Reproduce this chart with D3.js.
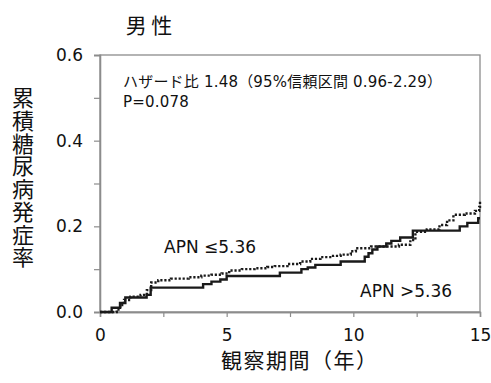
<!DOCTYPE html>
<html>
<head>
<meta charset="utf-8">
<script src="https://cdn.jsdelivr.net/npm/d3@7"></script>
<style>
  body { margin: 0; background: #fff; }
  text { font-family: "DejaVu Sans", "Noto Sans CJK JP", sans-serif; fill: #111; }
  .cjk { font-family: "Noto Sans CJK JP", sans-serif; }
</style>
</head>
<body>
<div id="chart"></div>
<script>
// Kaplan-Meier style cumulative incidence
const timeHigh = [0, 0.46, 0.79, 1.0, 1.84, 2.0, 4.07, 4.4, 4.75, 5.0, 7.1, 7.95, 8.2, 8.5, 9.5, 10.45, 10.6, 10.75, 10.95, 11.3, 11.5, 11.85, 12.35, 14.2, 14.5, 14.93, 15];
const rateHigh = [0, 0.010, 0.021, 0.034, 0.040, 0.057, 0.065, 0.071, 0.076, 0.084, 0.092, 0.100, 0.104, 0.110, 0.118, 0.129, 0.137, 0.146, 0.153, 0.160, 0.166, 0.174, 0.190, 0.200, 0.208, 0.219, 0.219];

const timeLow = [0, 0.66, 0.8, 0.95, 1.2, 1.6, 1.85, 2.02, 2.3, 2.8, 3.5, 4.0, 4.4, 4.8, 5.1, 5.6, 6.1, 6.6, 6.9, 7.4, 7.9, 8.3, 8.7, 9.2, 9.5, 9.9, 10.1, 10.7, 11.8, 12.25, 12.45, 12.9, 13.4, 13.7, 13.95, 14.4, 14.8, 14.97, 15];
const rateLow = [0, 0.006, 0.016, 0.028, 0.036, 0.040, 0.051, 0.069, 0.074, 0.078, 0.081, 0.085, 0.087, 0.090, 0.097, 0.100, 0.102, 0.105, 0.107, 0.112, 0.118, 0.124, 0.128, 0.131, 0.134, 0.142, 0.149, 0.153, 0.157, 0.168, 0.187, 0.193, 0.203, 0.214, 0.227, 0.230, 0.236, 0.245, 0.258];

const xTicks = [0, 5, 10, 15];
const xMinor = [2.5, 7.5, 12.5];
const yTicks = [0, 0.2, 0.4, 0.6];
const yMinor = [0.1, 0.3, 0.5];

const noteLines = ["ハザード比 1.48（95%信頼区間 0.96-2.29）", "P=0.078"];

const width = 491, height = 383;
const margin = { top: 55, right: 11, bottom: 71, left: 100 };
const w = width - margin.left - margin.right;
const h = height - margin.top - margin.bottom;

const svg = d3.select("#chart").append("svg")
    .attr("width", width)
    .attr("height", height);

const g = svg.append("g")
    .attr("transform", `translate(${margin.left},${margin.top})`);

const x = d3.scaleLinear().domain([0, 15]).range([0, w]);
const y = d3.scaleLinear().domain([0, 0.6]).range([h, 0]);

// plot frame
g.append("rect")
    .attr("width", w)
    .attr("height", h)
    .attr("fill", "none")
    .attr("stroke", "#8c8c8c")
    .attr("stroke-width", 1.3);

// axes
g.append("g")
    .call(d3.axisLeft(y).tickValues(yTicks).tickFormat(d3.format(".1f")).tickSize(6).tickPadding(11));
g.append("g")
    .call(d3.axisLeft(y).tickValues(yMinor).tickFormat("").tickSize(6));

g.append("g")
    .attr("transform", `translate(0,${h})`)
    .call(d3.axisBottom(x).tickValues(xTicks).tickSize(5).tickPadding(12));
g.append("g")
    .attr("transform", `translate(0,${h})`)
    .call(d3.axisBottom(x).tickValues(xMinor).tickFormat("").tickSize(5));

g.selectAll(".domain").attr("stroke", "#8c8c8c").attr("stroke-width", 1.3);
g.selectAll(".tick line").attr("stroke", "#8c8c8c").attr("stroke-width", 1.2);
g.selectAll(".tick text")
    .style("font-family", "'DejaVu Sans', sans-serif")
    .style("font-size", "17px")
    .attr("fill", "#111");

// curves
const line = d3.line()
    .x(d => x(d[0]))
    .y(d => y(d[1]))
    .curve(d3.curveStepAfter);

g.append("path")
    .datum(d3.zip(timeHigh, rateHigh))
    .attr("d", line)
    .attr("fill", "none")
    .attr("stroke", "#1a1a1a")
    .attr("stroke-width", 2.4);

g.append("path")
    .datum(d3.zip(timeLow, rateLow))
    .attr("d", line)
    .attr("fill", "none")
    .attr("stroke", "#1a1a1a")
    .attr("stroke-width", 2.4)
    .attr("stroke-dasharray", "2.2,1.8");

// labels
svg.append("text")
    .attr("class", "cjk")
    .attr("x", 149).attr("y", 33)
    .attr("text-anchor", "middle")
    .style("font-size", "21px")
    .text("男 性");

svg.append("text")
    .attr("class", "cjk")
    .attr("x", 23).attr("y", 87)
    .style("writing-mode", "vertical-rl")
    .style("text-orientation", "upright")
    .style("font-size", "22px")
    .style("letter-spacing", "0.7px")
    .text("累積糖尿病発症率");

svg.append("text")
    .attr("class", "cjk")
    .attr("x", 221).attr("y", 368)
    .style("font-size", "21px")
    .style("letter-spacing", "1.5px")
    .text("観察期間（年）");

// hazard ratio note, one text block with two lines
svg.append("text")
    .attr("y", 87)
    .style("font-size", "15px")
    .style("letter-spacing", "0.2px")
    .selectAll("tspan")
    .data(noteLines)
    .enter()
    .append("tspan")
    .attr("x", 123)
    .attr("dy", (d, i) => i === 0 ? 0 : 20)
    .text(d => d);

svg.append("text")
    .attr("x", 164).attr("y", 253)
    .style("font-size", "17px")
    .text("APN ≤5.36");
svg.append("text")
    .attr("x", 360).attr("y", 297)
    .style("font-size", "17px")
    .text("APN >5.36");
</script>
</body>
</html>
